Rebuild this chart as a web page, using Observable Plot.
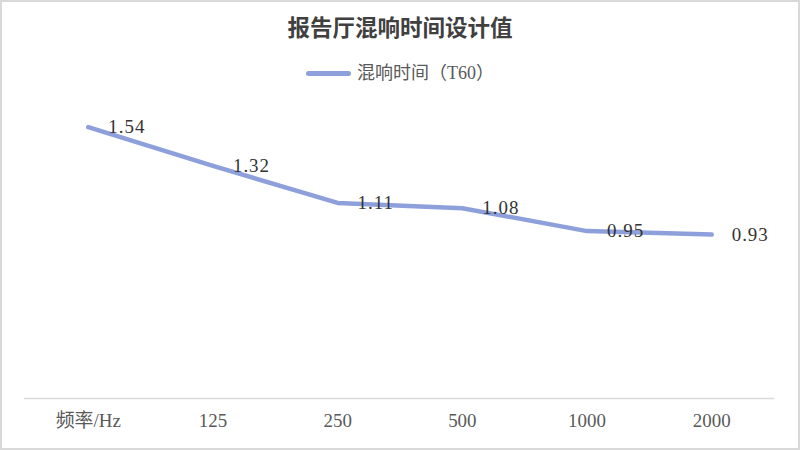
<!DOCTYPE html>
<html>
<head>
<meta charset="utf-8">
<script src="https://cdn.jsdelivr.net/npm/d3@7"></script>
<script src="https://cdn.jsdelivr.net/npm/@observablehq/plot@0.6"></script>
<style>
  html, body { margin: 0; padding: 0; background: #fff; }
  #wrap { position: relative; width: 800px; height: 450px; box-sizing: border-box; border: 2px solid #d9d9d9; overflow: hidden; }
  #title { position: absolute; left: 0; top: 12px; width: 796px; text-align: center; font-family: "Liberation Serif", "Noto Sans CJK SC", serif; font-size: 22.5px; font-weight: bold; color: #404040; line-height: 30px; }
  #legend { position: absolute; left: 0; top: 59px; width: 796px; display: flex; justify-content: center; align-items: center; font-family: "Liberation Serif", "Noto Sans CJK SC", serif; font-size: 18px; color: #595959; line-height: 24px; }
  #legend .sw { display: inline-block; width: 45px; height: 5px; border-radius: 3px; background: #8ea0db; margin-right: 6px; }
  #chart { position: absolute; left: -2px; top: -2px; }
</style>
</head>
<body>
<div id="wrap">
  <div id="chart"></div>
  <div id="title">报告厅混响时间设计值</div>
  <div id="legend"><span class="sw"></span><span>混响时间（T60）</span></div>
</div>
<script>
const categories = ["频率/Hz", "125", "250", "500", "1000", "2000"];
const values = [1.54, 1.32, 1.11, 1.08, 0.95, 0.93];
const seriesName = "混响时间（T60）";

const data = categories.map((c, i) => ({ cat: c, value: values[i] }));

const chart = Plot.plot({
  width: 800,
  height: 450,
  marginLeft: 24,
  marginRight: 24,
  marginTop: 81,
  marginBottom: 51,
  style: { fontFamily: '"Liberation Serif", "Noto Sans CJK SC", serif', background: "transparent" },
  x: { type: "point", domain: categories, padding: 0.5, label: null },
  y: { domain: [0, 1.8], axis: null },
  marks: [
    Plot.ruleY([0], { stroke: "#d9d9d9", strokeWidth: 1.5 }),
    Plot.axisX({ tickSize: 0, tickPadding: 15, fontSize: 19, fill: "#595959", label: null }),
    Plot.line(data, { x: "cat", y: "value", stroke: "#8ea0db", strokeWidth: 4.5, strokeLinecap: "round", strokeLinejoin: "round" }),
    Plot.text(data, { x: "cat", y: "value", text: d => d.value.toFixed(2), textAnchor: "start", dx: 20, fontSize: 19, fill: "#333333", style: "letter-spacing: 1px" })
  ]
});
chart.querySelectorAll("g[aria-label='text'] text").forEach(t => t.style.letterSpacing = "1px");
document.getElementById("chart").appendChild(chart);
</script>
</body>
</html>
